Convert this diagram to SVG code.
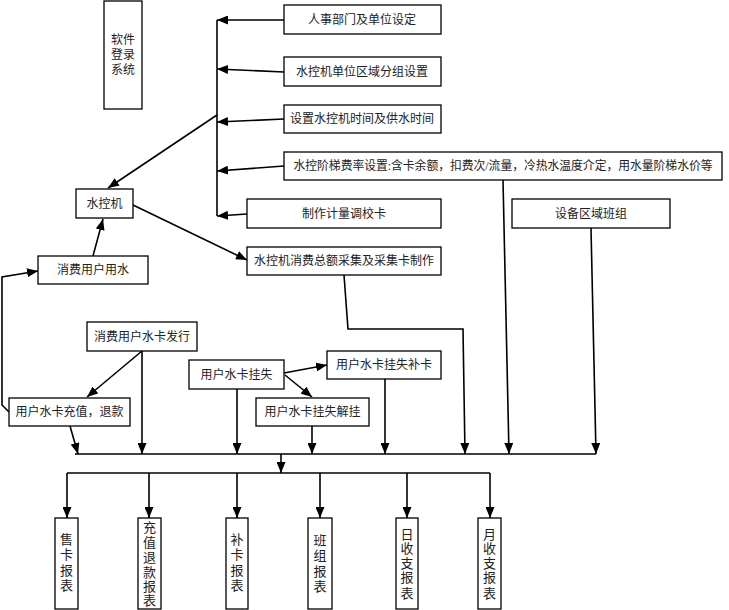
<svg xmlns="http://www.w3.org/2000/svg" width="729" height="610" viewBox="0 0 729 610">
<style>
.box{fill:#fff;stroke:#000;stroke-width:1.3}
.ln{fill:none;stroke:#000;stroke-width:1.6}
.ar{fill:none;stroke:#000;stroke-width:1.6;marker-end:url(#ah)}
text{font-family:"Liberation Serif","Noto Sans CJK SC",serif;font-size:12px;fill:#222;text-anchor:middle}
.v{font-size:13px}
</style>
<defs>
<marker id="ah" markerUnits="userSpaceOnUse" markerWidth="11" markerHeight="9" refX="11" refY="4.5" orient="auto">
<path d="M0,0 L11,4.5 L0,9 z" fill="#000"/>
</marker>
</defs>
<rect width="729" height="610" fill="#fff"/>
<g id="connectors">
<path class="ln" d="M217,20 L217,216"/>
<path class="ar" d="M284,20 L217,20"/>
<path class="ar" d="M284,72 L217,69"/>
<path class="ar" d="M284,119 L217,122"/>
<path class="ar" d="M284,166 L217,171"/>
<path class="ar" d="M247,214 L217,216"/>
<path class="ar" d="M217,115 L108,188"/>
<path class="ar" d="M133,205 L247,260"/>
<path class="ar" d="M93,256 L103,219"/>
<path class="ar" d="M9,412 L2,405 L2,277 L38,271"/>
<path class="ar" d="M142,351 L87,397"/>
<path class="ar" d="M284,373 L327,365"/>
<path class="ar" d="M285,375 L312,397"/>
<path class="ar" d="M70,426 L78,454"/>
<path class="ar" d="M142,351 L142,454"/>
<path class="ar" d="M237,389 L237,454"/>
<path class="ar" d="M312,426 L312,454"/>
<path class="ar" d="M385,379 L385,454"/>
<path class="ar" d="M344,275 L348,329 L463,329 L465,454"/>
<path class="ar" d="M503,180 L509,454"/>
<path class="ar" d="M591,228 L596,454"/>
<path class="ln" d="M75,454 L596,454"/>
<path class="ar" d="M281,454 L281,473"/>
<path class="ln" d="M67,473 L490,473"/>
<path class="ar" d="M67,473 L67,518"/>
<path class="ar" d="M149,473 L149,518"/>
<path class="ar" d="M237,473 L237,518"/>
<path class="ar" d="M320,473 L320,518"/>
<path class="ar" d="M407,473 L407,518"/>
<path class="ar" d="M490,473 L490,518"/>
</g>
<g id="n-login"><rect class="box" x="104" y="1" width="38" height="108"/>
<text x="123" y="44">软件</text><text x="123" y="59">登录</text><text x="123" y="74">系统</text></g>
<g id="n-hr"><rect class="box" x="284" y="5" width="157" height="29"/><text x="362" y="24">人事部门及单位设定</text></g>
<g id="n-group"><rect class="box" x="284" y="57" width="157" height="29"/><text x="362" y="76">水控机单位区域分组设置</text></g>
<g id="n-time"><rect class="box" x="284" y="105" width="157" height="28"/><text x="362" y="123">设置水控机时间及供水时间</text></g>
<g id="n-rate"><rect class="box" x="284" y="152" width="438" height="28"/><text x="503" y="170" textLength="419" lengthAdjust="spacingAndGlyphs">水控阶梯费率设置:含卡余额，扣费次/流量，冷热水温度介定，用水量阶梯水价等</text></g>
<g id="n-calib"><rect class="box" x="247" y="199" width="194" height="29"/><text x="344" y="218">制作计量调校卡</text></g>
<g id="n-area"><rect class="box" x="512" y="199" width="158" height="29"/><text x="591" y="218">设备区域班组</text></g>
<g id="n-collect"><rect class="box" x="247" y="247" width="194" height="28"/><text x="344" y="265">水控机消费总额采集及采集卡制作</text></g>
<g id="n-ctrl"><rect class="box" x="76" y="189" width="57" height="29"/><text x="104.5" y="208">水控机</text></g>
<g id="n-use"><rect class="box" x="38" y="256" width="110" height="28"/><text x="93" y="274">消费用户用水</text></g>
<g id="n-issue"><rect class="box" x="87" y="322" width="110" height="29"/><text x="142" y="341">消费用户水卡发行</text></g>
<g id="n-recharge"><rect class="box" x="9" y="398" width="121" height="28"/><text x="69.5" y="416">用户水卡充值，退款</text></g>
<g id="n-lost"><rect class="box" x="189" y="360" width="95" height="29"/><text x="236.5" y="379">用户水卡挂失</text></g>
<g id="n-reissue"><rect class="box" x="327" y="351" width="114" height="28"/><text x="384" y="369">用户水卡挂失补卡</text></g>
<g id="n-unlost"><rect class="box" x="256" y="398" width="113" height="28"/><text x="312.5" y="416">用户水卡挂失解挂</text></g>
<g id="r-sell"><rect class="box" x="55" y="518" width="23" height="91"/>
<text class="v" x="66.5" y="544">售</text><text class="v" x="66.5" y="559">卡</text><text class="v" x="66.5" y="575">报</text><text class="v" x="66.5" y="590">表</text></g>
<g id="r-recharge"><rect class="box" x="138" y="518" width="23" height="91"/>
<text class="v" x="149.5" y="532">充</text><text class="v" x="149.5" y="547">值</text><text class="v" x="149.5" y="562">退</text><text class="v" x="149.5" y="577">款</text><text class="v" x="149.5" y="591">报</text><text class="v" x="149.5" y="605">表</text></g>
<g id="r-reissue"><rect class="box" x="226" y="518" width="22" height="91"/>
<text class="v" x="237" y="544">补</text><text class="v" x="237" y="559">卡</text><text class="v" x="237" y="575">报</text><text class="v" x="237" y="590">表</text></g>
<g id="r-team"><rect class="box" x="308" y="518" width="24" height="91"/>
<text class="v" x="320" y="545">班</text><text class="v" x="320" y="560">组</text><text class="v" x="320" y="576">报</text><text class="v" x="320" y="591">表</text></g>
<g id="r-day"><rect class="box" x="396" y="518" width="22" height="91"/>
<text class="v" x="407" y="539">日</text><text class="v" x="407" y="553">收</text><text class="v" x="407" y="568">支</text><text class="v" x="407" y="582">报</text><text class="v" x="407" y="598">表</text></g>
<g id="r-month"><rect class="box" x="478" y="518" width="23" height="91"/>
<text class="v" x="489.5" y="539">月</text><text class="v" x="489.5" y="553">收</text><text class="v" x="489.5" y="568">支</text><text class="v" x="489.5" y="582">报</text><text class="v" x="489.5" y="598">表</text></g>
</svg>
